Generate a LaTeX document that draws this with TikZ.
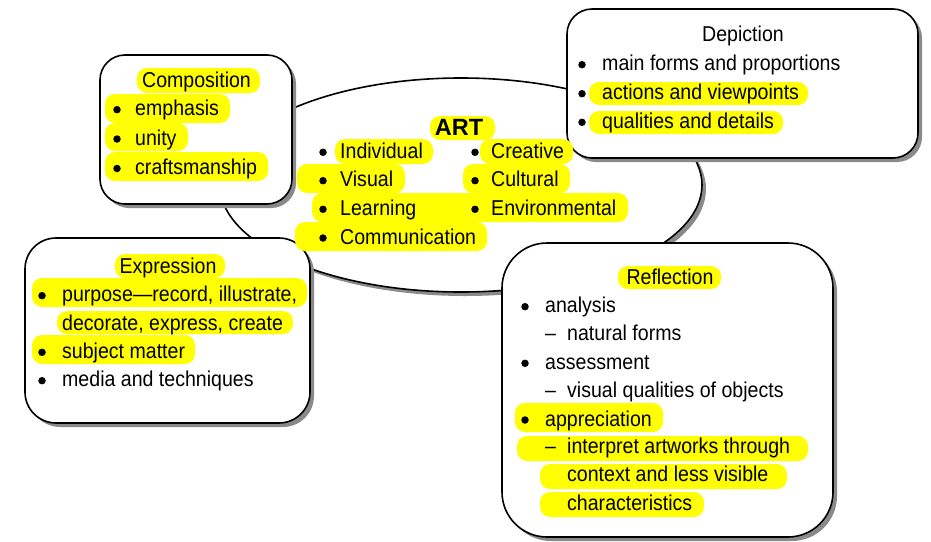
\documentclass[tikz,border=0pt]{standalone}
\usepackage{fontspec}
\setmainfont{Liberation Sans}[FakeStretch=0.91]
\newfontfamily\artfont{Liberation Sans}
\usetikzlibrary{shapes.geometric,shadows}
\definecolor{shadowgray}{RGB}{138,138,138}
\definecolor{hlyellow}{RGB}{255,255,0}

\begin{document}
\begin{tikzpicture}[x=1pt,y=-1pt,
  frame/.style={draw=black, line width=1.6pt, fill=white, inner sep=0pt,
    drop shadow={shadow xshift=4pt, shadow yshift=-4pt, fill=shadowgray, opacity=1}},
  card/.style={frame, rectangle, rounded corners=#1},
  hl/.style={fill=hlyellow, rounded corners=10pt},
  txt/.style={inner sep=0pt, anchor=base west, font=\fontsize{21.5}{26}\selectfont},
  ttl/.style={inner sep=0pt, anchor=base, font=\fontsize{21.5}{26}\selectfont},
  dot/.style={circle, fill=black, inner sep=0pt, minimum size=7.5pt},
]
\useasboundingbox (0,0) rectangle (931,541);

% central ellipse and the four rounded cards
\node[frame, ellipse, minimum width=482pt, minimum height=214pt] (art) at (461,185) {};
\node[card=25pt, minimum width=192pt, minimum height=149pt] (comp) at (196,129.5) {};
\node[card=25pt, minimum width=351pt, minimum height=149pt] (depi) at (742.5,83.5) {};
\node[card=31pt, minimum width=285pt, minimum height=185pt] (expr) at (167.5,330.5) {};
\node[card=45pt, minimum width=331pt, minimum height=294pt] (refl) at (667.5,390) {};

% highlighter marks
\fill[hl] (137,68) rectangle (260,93);
\fill[hl] (105,94) rectangle (230,123);
\fill[hl] (105,123) rectangle (188,151);
\fill[hl] (105,152) rectangle (268,181);

\fill[hl] (430,116) rectangle (495,140);
\fill[hl] (335,139) rectangle (433,164);
\fill[hl] (297,164) rectangle (405,193);
\fill[hl] (312,193) rectangle (490,222);
\fill[hl] (470,193) rectangle (628,222);
\fill[hl] (295,222) rectangle (487,251);
\fill[hl] (480,139) rectangle (573,164);
\fill[hl] (463,164) rectangle (570,193);

\fill[hl] (589,82) rectangle (808,105);
\fill[hl] (589,111) rectangle (783,134);

\fill[hl] (115,254) rectangle (225,278);
\fill[hl] (32,278) rectangle (307,307);
\fill[hl] (57,311) rectangle (293,334);
\fill[hl] (32,335) rectangle (195,364);

\fill[hl] (618,266) rectangle (721,289);
\fill[hl] (515,403) rectangle (663,432);
\fill[hl] (517,436) rectangle (808,461);
\fill[hl] (540,464) rectangle (787,489);
\fill[hl] (540,492) rectangle (704,517);

% Composition
\node[ttl] (compT) at (196.5,87.3) {Composition};
\node[dot] (compB1) at (117,109.7) {};
\node[txt] (compL1) at (135,115.7) {emphasis};
\node[dot] (compB2) at (117,139) {};
\node[txt] (compL2) at (135,145) {unity};
\node[dot] (compB3) at (117,168.5) {};
\node[txt] (compL3) at (135,174.5) {craftsmanship};

% ART
\node[inner sep=0pt, anchor=base, font=\artfont\bfseries\fontsize{23.5}{28}\selectfont] (artT) at (459,135) {ART};
\node[dot] (artB1) at (323,152.3) {};
\node[txt] (artL1) at (340,158.3) {Individual};
\node[dot] (artB2) at (323,180.7) {};
\node[txt] (artL2) at (340,186.7) {Visual};
\node[dot] (artB3) at (323,209.3) {};
\node[txt] (artL3) at (340,215.3) {Learning};
\node[dot] (artB4) at (323,238) {};
\node[txt] (artL4) at (340,244) {Communication};
\node[dot] (artB5) at (475,152.3) {};
\node[txt] (artL5) at (491,158.3) {Creative};
\node[dot] (artB6) at (475,180.7) {};
\node[txt] (artL6) at (491,186.7) {Cultural};
\node[dot] (artB7) at (475,209.3) {};
\node[txt] (artL7) at (491,215.3) {Environmental};

% Depiction
\node[ttl] (depiT) at (743,41.7) {Depiction};
\node[dot] (depiB1) at (582,64.7) {};
\node[txt] (depiL1) at (602,70.7) {main forms and proportions};
\node[dot] (depiB2) at (582,93.7) {};
\node[txt] (depiL2) at (602,99.7) {actions and viewpoints};
\node[dot] (depiB3) at (582,122.3) {};
\node[txt] (depiL3) at (602,128.3) {qualities and details};

% Expression
\node[ttl] (exprT) at (168,273.3) {Expression};
\node[dot] (exprB1) at (42,295.7) {};
\node[txt] (exprL1) at (62,301.7) {purpose—record, illustrate,};
\node[txt] (exprL1b) at (62,330) {decorate, express, create};
\node[dot] (exprB2) at (42,352.3) {};
\node[txt] (exprL2) at (62,358.3) {subject matter};
\node[dot] (exprB3) at (42,380.7) {};
\node[txt] (exprL3) at (62,386.7) {media and techniques};

% Reflection
\node[ttl] (reflT) at (670,284) {Reflection};
\node[dot] (reflB1) at (525,306.7) {};
\node[txt] (reflL1) at (545,312.7) {analysis};
\node[txt] (reflD1) at (545,340.7) {–};
\node[txt] (reflS1) at (567,340.7) {natural forms};
\node[dot] (reflB2) at (525,363.3) {};
\node[txt] (reflL2) at (545,369.3) {assessment};
\node[txt] (reflD2) at (545,397.3) {–};
\node[txt] (reflS2) at (567,397.3) {visual qualities of objects};
\node[dot] (reflB3) at (525,420) {};
\node[txt] (reflL3) at (545,426) {appreciation};
\node[txt] (reflD3) at (545,453.3) {–};
\node[txt] (reflS3) at (567,453.3) {interpret artworks through};
\node[txt] (reflS3b) at (567,481.7) {context and less visible};
\node[txt] (reflS3c) at (567,510) {characteristics};
\end{tikzpicture}
\end{document}
